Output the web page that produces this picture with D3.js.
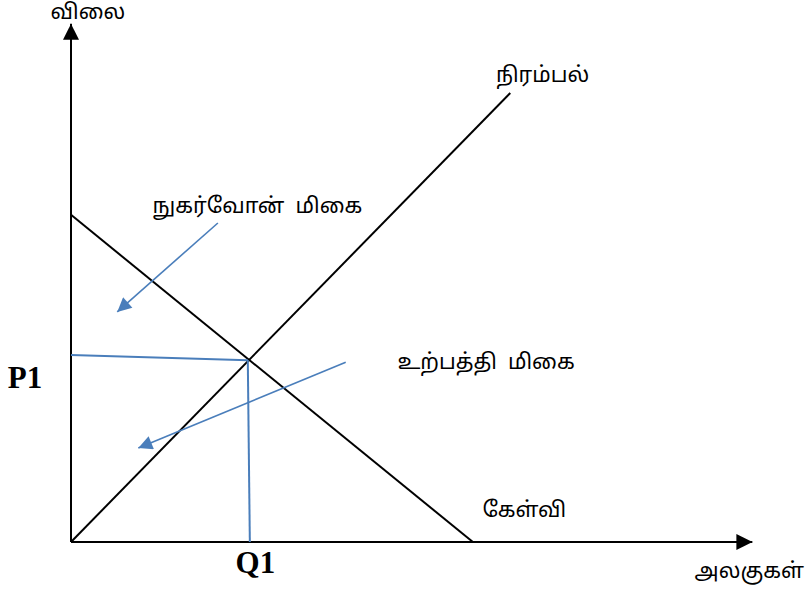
<!DOCTYPE html>
<html>
<head>
<meta charset="utf-8">
<script src="https://cdn.jsdelivr.net/npm/d3@7"></script>
<style>
  body { margin: 0; background: #fff; }
  text { font-family: "Noto Sans Tamil", "Latha", "Noto Serif Tamil", "Noto Sans", sans-serif; }
  .bold { font-family: "Liberation Serif", "Times New Roman", serif; font-weight: bold; }
</style>
</head>
<body>
<div id="chart"></div>
<script>
// axis extents (quantity, price units)
const axisMax = { q: 10, p: 10 };

// curves: demand and supply, as [q, p] points
const demand = [[0, 6.44], [5.91, 0]];
const supply = [[0, 0], [6.46, 8.84]];

// equilibrium guides
const priceGuide = [[0, 3.68], [2.60, 3.58]];
const qtyGuide = [[2.60, 3.58], [2.63, 0]];

// annotation arrows [from, to]
const arrows = [
  [[2.16, 6.28], [0.68, 4.53]],
  [[4.04, 3.54], [0.99, 1.85]]
];

// text labels [q, p, text, anchor]
const labels = [
  [0.25, 10.3, "விலை", "middle"],
  [6.25, 9.05, "நிரம்பல்", "start"],
  [1.2, 6.47, "நுகர்வோன்\u00a0\u00a0மிகை", "start"],
  [4.8, 3.41, "உற்பத்தி\u00a0\u00a0மிகை", "start"],
  [6.05, 0.49, "கேள்வி", "start"],
  [9.17, -0.71, "அலகுகள்", "start"]
];
const boldLabels = [
  [-0.93, 3.03, "P1"],
  [2.42, -0.61, "Q1"]
];

const width = 807, height = 594;
const svg = d3.select('#chart').append('svg')
  .attr('width', width).attr('height', height);

const x = d3.scaleLinear().domain([0, axisMax.q]).range([71, 751]);
const y = d3.scaleLinear().domain([0, axisMax.p]).range([542, 34]);

const defs = svg.append('defs');
defs.append('marker').attr('id', 'blackHead')
  .attr('viewBox', '0 0 10 10').attr('refX', 10).attr('refY', 5)
  .attr('markerWidth', 16).attr('markerHeight', 16).attr('markerUnits', 'userSpaceOnUse')
  .attr('orient', 'auto')
  .append('path').attr('d', 'M0,0 L10,5 L0,10 Z').attr('fill', '#000');
defs.append('marker').attr('id', 'blueHead')
  .attr('viewBox', '0 0 10 10').attr('refX', 10).attr('refY', 5)
  .attr('markerWidth', 16).attr('markerHeight', 14).attr('markerUnits', 'userSpaceOnUse')
  .attr('orient', 'auto')
  .append('path').attr('d', 'M0,0 L10,5 L0,10 Z').attr('fill', '#4a7ebb');

const line = d3.line().x(d => x(d[0])).y(d => y(d[1]));

// axes with arrows
svg.append('path').attr('d', line([[0, 0], [0, axisMax.p + 0.2]]))
  .attr('stroke', '#000').attr('stroke-width', 2).attr('fill', 'none')
  .attr('marker-end', 'url(#blackHead)');
svg.append('path').attr('d', line([[0, 0], [axisMax.q + 0.02, 0]]))
  .attr('stroke', '#000').attr('stroke-width', 2).attr('fill', 'none')
  .attr('marker-end', 'url(#blackHead)');

// demand & supply
[demand, supply].forEach(c => {
  svg.append('path').attr('d', line(c))
    .attr('stroke', '#000').attr('stroke-width', 2).attr('fill', 'none');
});

// guides
[priceGuide, qtyGuide].forEach(g => {
  svg.append('path').attr('d', line(g))
    .attr('stroke', '#4a7ebb').attr('stroke-width', 2).attr('fill', 'none');
});

// arrows
arrows.forEach(a => {
  svg.append('path').attr('d', line(a))
    .attr('stroke', '#4a7ebb').attr('stroke-width', 1.6).attr('fill', 'none')
    .attr('marker-end', 'url(#blueHead)');
});

svg.selectAll('text.lbl').data(labels).join('text')
  .attr('class', 'lbl')
  .attr('x', d => x(d[0])).attr('y', d => y(d[1]))
  .attr('text-anchor', d => d[3])
  .attr('font-size', 21.5)
  .attr('fill', '#000')
  .text(d => d[2]);

svg.selectAll('text.bold').data(boldLabels).join('text')
  .attr('class', 'bold')
  .attr('x', d => x(d[0])).attr('y', d => y(d[1]))
  .attr('font-size', 31)
  .attr('fill', '#000')
  .text(d => d[2]);
</script>
</body>
</html>
